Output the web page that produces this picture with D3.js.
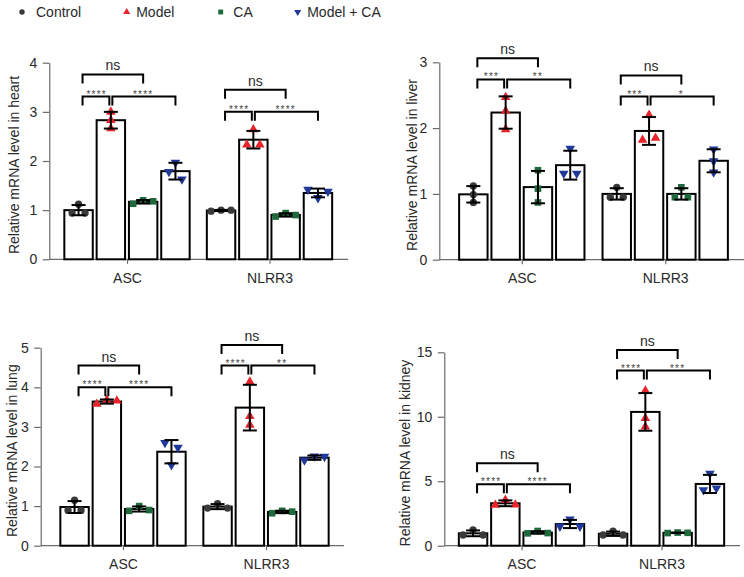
<!DOCTYPE html>
<html><head><meta charset="utf-8">
<script src="https://cdn.jsdelivr.net/npm/d3@7"></script>
<style>
body{margin:0;background:#fff}
svg{display:block}
text{font-family:"Liberation Sans",Arial,Helvetica,sans-serif}
</style>
</head><body>
<svg id="chart" width="744" height="577"></svg>
<script>
// ---------------- data ----------------
const genes = ["ASC", "NLRR3"];
const groups = ["Control", "Model", "CA", "Model + CA"];
const groupColors = ["#3a3a3a", "#e8232a", "#1e6a3c", "#1f389a"];
const tissues = ["heart", "liver", "lung", "kidney"];

const heartTicks = [0, 1, 2, 3, 4];
const liverTicks = [0, 1, 2, 3];
const lungTicks = [0, 1, 2, 3, 4, 5];
const kidneyTicks = [0, 5, 10, 15];

// replicate values [gene][group][replicate]
const heartPoints = [
  [[0.94, 1.12, 0.94], [3.0, 2.83, 2.66], [1.13, 1.2, 1.18], [1.97, 1.78, 1.63]],
  [[0.98, 1.0, 1.0], [2.33, 2.64, 2.33], [0.87, 0.94, 0.9], [1.42, 1.25, 1.38]]
];
const liverPoints = [
  [[1.12, 0.99, 0.87], [2.47, 2.26, 1.98], [1.36, 1.08, 0.87], [1.31, 1.69, 1.31]],
  [[0.95, 1.1, 0.95], [1.82, 2.2, 1.85], [0.95, 1.1, 0.95], [1.68, 1.5, 1.33]]
];
const lungPoints = [
  [[0.89, 1.15, 0.89], [3.58, 3.68, 3.66], [0.88, 1.0, 0.9], [2.6, 2.04, 2.48]],
  [[0.95, 1.06, 0.95], [4.14, 3.27, 3.05], [0.82, 0.88, 0.86], [2.16, 2.26, 2.25]]
];
const kidneyPoints = [
  [[0.83, 1.22, 0.83], [3.15, 3.55, 3.17], [0.96, 1.14, 0.98], [1.5, 2.05, 1.5]],
  [[0.83, 1.12, 0.83], [12.02, 9.88, 9.23], [0.98, 1.02, 1.0], [4.32, 5.6, 4.45]]
];

// significance bracket levels [gene] -> [ns bracket, lower brackets] (data units)
const heartBrackets = [[3.76, 3.31], [3.45, 3.0]];
const liverBrackets = [[3.06, 2.74], [2.8, 2.48]];
const lungBrackets = [[4.55, 4.0], [5.07, 4.55]];
const kidneyBrackets = [[6.4, 4.76], [15.18, 13.58]];

// significance labels [gene] -> [Control vs Model, Model vs Model + CA]
const heartStars = [["****", "****"], ["****", "****"]];
const liverStars = [["***", "**"], ["***", "*"]];
const lungStars = [["****", "****"], ["****", "**"]];
const kidneyStars = [["****", "****"], ["****", "***"]];
const nsLabel = "ns";

// ---------------- layout ----------------
const panels = [
  {tissue: tissues[0], ticks: heartTicks, pts: heartPoints, br: heartBrackets, st: heartStars,
   x0: 49.3, x1: 348, yTop: 62.7, yBot: 259.3, c: [127, 269.5], labelX: 14},
  {tissue: tissues[1], ticks: liverTicks, pts: liverPoints, br: liverBrackets, st: liverStars,
   x0: 439.3, x1: 744, yTop: 62.3, yBot: 259.7, c: [521.8, 665.2], labelX: 412},
  {tissue: tissues[2], ticks: lungTicks, pts: lungPoints, br: lungBrackets, st: lungStars,
   x0: 40.7, x1: 344, yTop: 347.7, yBot: 545.7, c: [123, 266], labelX: 12},
  {tissue: tissues[3], ticks: kidneyTicks, pts: kidneyPoints, br: kidneyBrackets, st: kidneyStars,
   x0: 444.3, x1: 740, yTop: 352.3, yBot: 545.7, c: [521.5, 661.5], labelX: 405}
];

const svg = d3.select("#chart");
const axisColor = "#6b6b6b";
const textColor = "#2a2a2a";

const symbolFor = [
  d3.symbol().type(d3.symbolCircle),
  d3.symbol().type(d3.symbolTriangle),
  d3.symbol().type(d3.symbolSquare),
  d3.symbol().type(d3.symbolTriangle)
];
const symbolRot = [0, 0, 0, 180];
const symbolSize = [42, 40, 44, 40];

// legend
const legendX = [22, 126.7, 220.7, 297.7];
const legend = svg.append("g");
groups.forEach((g, i) => {
  legend.append("path")
    .attr("d", symbolFor[i].size(symbolSize[i] * 0.55)())
    .attr("transform", `translate(${legendX[i]},${12}) rotate(${symbolRot[i]})`)
    .attr("fill", groupColors[i]);
  legend.append("text")
    .attr("x", legendX[i] + (i === 0 ? 14 : i === 2 ? 12.6 : 9.5))
    .attr("y", 17)
    .attr("font-size", 14)
    .attr("fill", textColor)
    .text(g);
});

panels.forEach(p => {
  const g = svg.append("g");
  const y = d3.scaleLinear().domain([0, d3.max(p.ticks)]).range([p.yBot, p.yTop]);
  const x = d3.scalePoint().domain(genes).range(p.c);
  const inner = d3.scaleBand().domain(groups).range([-64.6, 64.6]).paddingInner(0.12).paddingOuter(0.06);
  const bw = inner.bandwidth();

  // y axis
  const ya = g.append("g").attr("transform", `translate(${p.x0},0)`)
    .call(d3.axisLeft(y).tickValues(p.ticks).tickFormat(d3.format("d")).tickSize(6.5).tickSizeOuter(0).tickPadding(5.5));
  ya.select(".domain").attr("stroke", axisColor).attr("stroke-width", 1.2);
  ya.selectAll(".tick line").attr("stroke", axisColor).attr("stroke-width", 1.2);
  ya.selectAll(".tick text").attr("font-size", 14).attr("fill", textColor)
    .attr("font-family", '"Liberation Sans",Arial,sans-serif');

  // x axis
  const xa = g.append("g").attr("transform", `translate(0,${p.yBot})`)
    .call(d3.axisBottom(x).tickSize(4.5).tickPadding(9));
  xa.select(".domain").remove();
  xa.selectAll(".tick line").attr("stroke", axisColor).attr("stroke-width", 1.2);
  xa.selectAll(".tick text").attr("font-size", 14).attr("fill", textColor)
    .attr("font-family", '"Liberation Sans",Arial,sans-serif');
  g.append("line").attr("x1", p.x0).attr("x2", p.x1).attr("y1", p.yBot).attr("y2", p.yBot)
    .attr("stroke", axisColor).attr("stroke-width", 1.2);

  // y label
  g.append("text")
    .attr("transform", `translate(${p.labelX},${(p.yTop + p.yBot) / 2 + 4}) rotate(-90)`)
    .attr("text-anchor", "middle").attr("dominant-baseline", "central")
    .attr("font-size", 14).attr("fill", textColor)
    .text(`Relative mRNA level in ${p.tissue}`);

  genes.forEach((gene, gi) => {
    const cx = x(gene);
    const centerOf = k => cx + inner(groups[k]) + bw / 2;

    groups.forEach((grp, k) => {
      const vals = p.pts[gi][k];
      const m = d3.mean(vals), sd = d3.deviation(vals);
      const bx = cx + inner(grp);
      const bc = bx + bw / 2;
      // bar
      g.append("rect").attr("x", bx).attr("y", y(m)).attr("width", bw).attr("height", p.yBot - y(m))
        .attr("fill", "#fff").attr("stroke", "#000").attr("stroke-width", 2);

      // points: spread colliding replicates horizontally
      const py = vals.map(v => y(v));
      const order = d3.range(vals.length).sort((a, b) => py[a] - py[b]);
      const clusters = [];
      order.forEach((idx, j) => {
        if (j > 0 && Math.abs(py[idx] - py[order[j - 1]]) < 7.5) clusters[clusters.length - 1].push(idx);
        else clusters.push([idx]);
      });
      const off = new Array(vals.length).fill(0);
      clusters.forEach(cl => {
        cl.sort((a, b) => a - b);
        if (cl.length === 2) { off[cl[0]] = -6.5; off[cl[1]] = 6.5; }
        if (cl.length >= 3) { cl.forEach((idx, j) => off[idx] = (j - (cl.length - 1) / 2) * 10); }
      });
      vals.forEach((v, j) => {
        g.append("path")
          .attr("d", symbolFor[k].size(symbolSize[k])())
          .attr("transform", `translate(${bc + off[j]},${y(v)}) rotate(${symbolRot[k]})`)
          .attr("fill", groupColors[k]);
      });

      // error bar
      const eg = g.append("g").attr("stroke", "#000").attr("stroke-width", 2);
      eg.append("line").attr("x1", bc).attr("x2", bc).attr("y1", y(m - sd)).attr("y2", y(m + sd));
      [m - sd, m + sd].forEach(v => eg.append("line").attr("x1", bc - 7).attr("x2", bc + 7)
        .attr("y1", y(v)).attr("y2", y(v)));
    });

    // brackets
    const drop = 9;
    const bracket = (xa, xb, lvl) => {
      const yy = y(lvl);
      g.append("path").attr("d", `M${xa},${yy + drop}V${yy}H${xb}V${yy + drop}`)
        .attr("fill", "none").attr("stroke", "#000").attr("stroke-width", 2);
      return yy;
    };
    const xc0 = centerOf(0) + 4, xc1 = centerOf(1), xc2 = centerOf(2), xc3 = centerOf(3);
    const yNs = bracket(xc0, xc2, p.br[gi][0]);
    g.append("text").attr("x", (xc0 + xc2) / 2).attr("y", yNs - 4).attr("text-anchor", "middle")
      .attr("font-size", 14).attr("fill", textColor).text(nsLabel);
    const yL = bracket(xc0, xc1 - 1.5, p.br[gi][1]);
    bracket(xc1 + 1.5, xc3, p.br[gi][1]);
    g.append("text").attr("x", (xc0 + xc1) / 2).attr("y", yL + 1).attr("text-anchor", "middle")
      .attr("font-size", 10).attr("letter-spacing", 1.2).attr("fill", "#444").text(p.st[gi][0]);
    g.append("text").attr("x", (xc1 + xc3) / 2).attr("y", yL + 1).attr("text-anchor", "middle")
      .attr("font-size", 10).attr("letter-spacing", 1.2).attr("fill", "#444").text(p.st[gi][1]);
  });
});
</script>
</body></html>
